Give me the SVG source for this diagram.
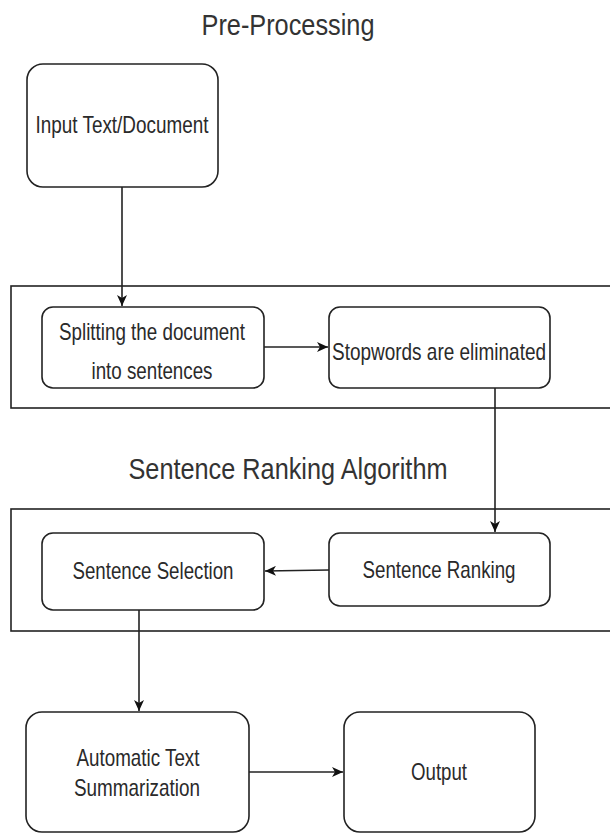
<svg xmlns="http://www.w3.org/2000/svg" width="610" height="833" viewBox="0 0 610 833">
  <style>
    .node { fill: #ffffff; stroke: #222222; stroke-width: 1.6; }
    .lane { fill: none; stroke: #222222; stroke-width: 1.6; }
    .edge { fill: none; stroke: #222222; stroke-width: 1.6; }
    .label { font-family: "Liberation Sans", Arial, sans-serif; font-size: 24px; fill: #2a2a2a; text-anchor: middle; }
    .title { font-family: "Liberation Sans", Arial, sans-serif; font-size: 30px; fill: #333333; text-anchor: middle; }
  </style>
  <defs>
    <marker id="arrow" markerWidth="12" markerHeight="10" refX="11" refY="5" orient="auto" markerUnits="userSpaceOnUse">
      <path d="M0,0 L11,5 L0,10 L3,5 Z" fill="#111111"/>
    </marker>
  </defs>
  <rect width="610" height="833" fill="#ffffff"/>

  <!-- stage containers -->
  <g id="stage-preprocessing">
    <text class="title" x="288" y="35" textLength="173" lengthAdjust="spacingAndGlyphs">Pre-Processing</text>
    <rect class="lane" x="11" y="286" width="610" height="122"/>
  </g>
  <g id="stage-ranking">
    <text class="title" x="288" y="479" textLength="319" lengthAdjust="spacingAndGlyphs">Sentence Ranking Algorithm</text>
    <rect class="lane" x="11" y="509" width="610" height="122"/>
  </g>

  <!-- nodes -->
  <g id="node-input">
    <rect class="node" x="27" y="64" width="191" height="123" rx="16" ry="16"/>
    <text class="label" x="122" y="133" textLength="173" lengthAdjust="spacingAndGlyphs">Input Text/Document</text>
  </g>
  <g id="node-splitting">
    <rect class="node" x="42" y="307" width="222" height="81" rx="11" ry="11"/>
    <text class="label" x="152" y="340" textLength="186" lengthAdjust="spacingAndGlyphs">Splitting the document</text>
    <text class="label" x="152" y="379" textLength="121" lengthAdjust="spacingAndGlyphs">into sentences</text>
  </g>
  <g id="node-stopwords">
    <rect class="node" x="329" y="307" width="221" height="81" rx="11" ry="11"/>
    <text class="label" x="439" y="360" textLength="214" lengthAdjust="spacingAndGlyphs">Stopwords are eliminated</text>
  </g>
  <g id="node-ranking">
    <rect class="node" x="329" y="533" width="221" height="73" rx="11" ry="11"/>
    <text class="label" x="439" y="578" textLength="153" lengthAdjust="spacingAndGlyphs">Sentence Ranking</text>
  </g>
  <g id="node-selection">
    <rect class="node" x="42" y="533" width="222" height="77" rx="11" ry="11"/>
    <text class="label" x="153" y="579" textLength="161" lengthAdjust="spacingAndGlyphs">Sentence Selection</text>
  </g>
  <g id="node-summarization">
    <rect class="node" x="26" y="712" width="223" height="120" rx="16" ry="16"/>
    <text class="label" x="138" y="766" textLength="123" lengthAdjust="spacingAndGlyphs">Automatic Text</text>
    <text class="label" x="137" y="796" textLength="126" lengthAdjust="spacingAndGlyphs">Summarization</text>
  </g>
  <g id="node-output">
    <rect class="node" x="344" y="712" width="191" height="120" rx="16" ry="16"/>
    <text class="label" x="439" y="780" textLength="56" lengthAdjust="spacingAndGlyphs">Output</text>
  </g>

  <!-- connectors -->
  <g id="connectors">
    <line class="edge" x1="122" y1="187" x2="122" y2="306" marker-end="url(#arrow)"/>
    <line class="edge" x1="264" y1="347" x2="328" y2="347" marker-end="url(#arrow)"/>
    <line class="edge" x1="495" y1="388" x2="495" y2="532" marker-end="url(#arrow)"/>
    <line class="edge" x1="329" y1="570" x2="265" y2="571" marker-end="url(#arrow)"/>
    <line class="edge" x1="139" y1="610" x2="139" y2="711" marker-end="url(#arrow)"/>
    <line class="edge" x1="249" y1="772" x2="343" y2="772" marker-end="url(#arrow)"/>
  </g>
</svg>
